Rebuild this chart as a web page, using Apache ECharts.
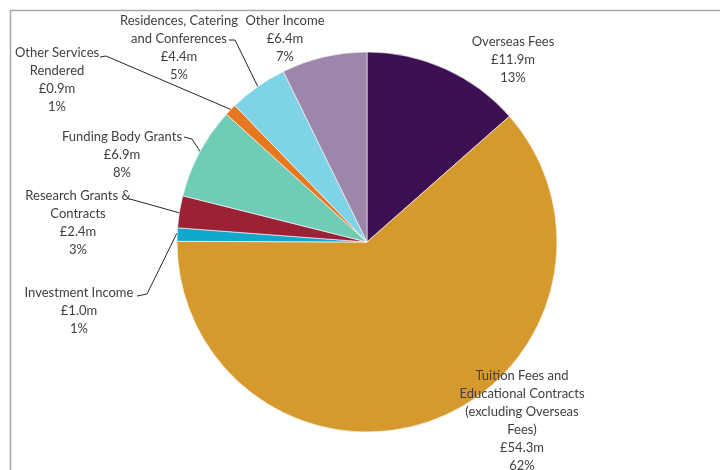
<!DOCTYPE html>
<html>
<head>
<meta charset="utf-8">
<style>
  html, body { margin: 0; padding: 0; background: #fff; }
  #chart { width: 720px; height: 470px; }
</style>
<script src="https://cdn.jsdelivr.net/npm/echarts@6/dist/echarts.min.js"></script>
</head>
<body>
<div id="chart"></div>
<script>
// Income sources (£m), clockwise from 12 o'clock
const categories = [
  'Overseas Fees',
  'Tuition Fees and\nEducational Contracts\n(excluding Overseas\nFees)',
  'Investment Income',
  'Research Grants &\nContracts',
  'Funding Body Grants',
  'Other Services\nRendered',
  'Residences, Catering\nand Conferences',
  'Other Income'
];
const values = [11.9, 54.3, 1.0, 2.4, 6.9, 0.9, 4.4, 6.4];
const colors = ['#3c1052', '#d6992d', '#12a8cc', '#9b2236', '#6fcdb7', '#e8781f', '#7ed3e6', '#9d86aa'];

const total = values.reduce((a, b) => a + b, 0);

// Label placement: [centre x, top y, leader line points or null]
const labelPlaces = [
  [513, 33, null],
  [522, 367, null],
  [79, 284, [[137, 296], [147, 294], [177, 233]]],
  [78, 187, [[130, 199], [137, 201], [180, 213]]],
  [122, 128, [[184, 137], [192, 139], [201, 153]]],
  [57, 44, [[100, 57], [106, 56], [232, 110]]],
  [179, 12, [[229, 40], [235, 40], [258, 87]]],
  [285, 12, null]
];

const chart = echarts.init(document.getElementById('chart'), null, { renderer: 'canvas' });

chart.setOption({
  animation: false,
  graphic: [{
    type: 'polyline',
    shape: { points: [[10.5, 470], [10.5, 10.5], [720, 10.5]] },
    style: { stroke: '#a6a6a6', lineWidth: 1.5, fill: null },
    silent: true
  }],
  series: [{
    type: 'pie',
    center: [367, 242],
    radius: [0, 190],
    startAngle: 90,
    clockwise: true,
    avoidLabelOverlap: false,
    itemStyle: { borderColor: '#ffffff', borderWidth: 0.6 },
    label: {
      show: true,
      position: 'outside',
      color: '#404040',
      fontFamily: 'Lato',
      fontSize: 13,
      lineHeight: 18,
      align: 'center',
      formatter: p => p.name + '\n£' + p.value.toFixed(1) + 'm\n' + Math.round(p.value / total * 100) + '%'
    },
    labelLine: {
      show: true,
      lineStyle: { color: '#262626', width: 1 }
    },
    labelLayout: params => {
      const pl = labelPlaces[params.dataIndex];
      const out = { x: pl[0], y: pl[1], align: 'center', verticalAlign: 'top', hideOverlap: false, moveOverlap: false };
      if (pl[2]) out.labelLinePoints = pl[2];
      return out;
    },
    data: categories.map((name, i) => ({
      name: name,
      value: values[i],
      itemStyle: { color: colors[i] },
      labelLine: { show: labelPlaces[i][2] !== null }
    }))
  }]
});
</script>
</body>
</html>
